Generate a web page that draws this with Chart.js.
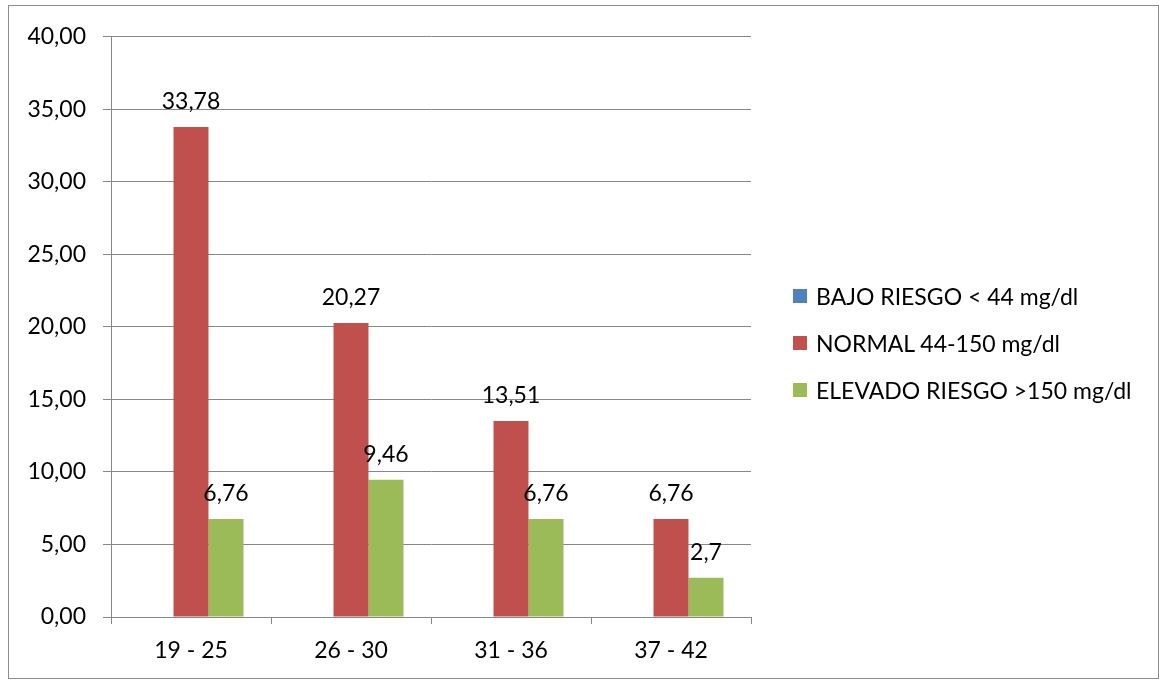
<!DOCTYPE html>
<html lang="es">
<head>
    <meta charset="UTF-8">
    <title>Rangos de edad</title>
    <style>
        body {
            margin: 0;
            background: #fff;
            font-family: Lato, sans-serif;
        }
        #frame {
            position: absolute;
            left: 8px;
            top: 5px;
            width: 1149px;
            height: 672px;
            border: 1px solid #8c8c8c;
        }
        #chart {
            position: absolute;
            left: 0;
            top: 0;
        }
        #legend {
            position: absolute;
            left: 784px;
            top: 276px;
        }
        .item {
            display: flex;
            align-items: center;
            height: 28px;
            margin-bottom: 19px;
            font-size: 23px;
            color: #000;
            white-space: nowrap;
        }
        .box {
            width: 14px;
            height: 14px;
            margin-right: 9px;
        }
    </style>
</head>
<body>
    <div id="frame">
        <canvas id="chart" width="1149" height="672"></canvas>
        <div id="legend"></div>
    </div>

    <script src="https://cdn.jsdelivr.net/npm/chart.js"></script>
    <script>
    // Data
    const categories = ['19 - 25', '26 - 30', '31 - 36', '37 - 42'];
    const seriesNames = ['BAJO RIESGO < 44 mg/dl', 'NORMAL 44-150 mg/dl', 'ELEVADO RIESGO >150 mg/dl'];
    const bajoRiesgo = [null, null, null, null];
    const normal = [33.78, 20.27, 13.51, 6.76];
    const elevadoRiesgo = [6.76, 9.46, 6.76, 2.7];
    const yTicks = [0, 5, 10, 15, 20, 25, 30, 35, 40];

    const colors = ['#4f81bd', '#c0504d', '#9bbb59'];
    const gridColor = '#888888';
    const fontFamily = 'Lato, sans-serif';
    const fontSize = 23;

    // Value labels above each bar
    const barLabels = {
        id: 'barLabels',
        afterDatasetsDraw(chart) {
            const ctx = chart.ctx;
            ctx.save();
            ctx.font = fontSize + 'px ' + fontFamily;
            ctx.fillStyle = '#000';
            ctx.textAlign = 'center';
            ctx.textBaseline = 'alphabetic';
            chart.data.datasets.forEach((ds, i) => {
                chart.getDatasetMeta(i).data.forEach((bar, j) => {
                    const v = ds.data[j];
                    if (v === null || v === undefined) return;
                    ctx.fillText(String(v).replace('.', ','), bar.x, bar.y - 18);
                });
            });
            ctx.restore();
        }
    };

    const allSeries = [bajoRiesgo, normal, elevadoRiesgo];

    new Chart(document.getElementById('chart'), {
        type: 'bar',
        data: {
            labels: categories,
            datasets: allSeries.map((data, i) => ({
                label: seriesNames[i],
                data: data,
                backgroundColor: colors[i],
                categoryPercentage: 0.656,
                barPercentage: 1
            }))
        },
        options: {
            responsive: false,
            animation: false,
            layout: {
                padding: { top: 30, right: 407, left: 0, bottom: 0 }
            },
            plugins: {
                legend: { display: false },
                tooltip: { enabled: false }
            },
            scales: {
                x: {
                    grid: {
                        display: true,
                        offset: true,
                        drawOnChartArea: false,
                        drawTicks: true,
                        tickLength: 7,
                        color: gridColor
                    },
                    border: { display: true, color: gridColor },
                    ticks: {
                        color: '#000',
                        padding: 13,
                        font: { family: fontFamily, size: fontSize }
                    },
                    afterFit: s => { s.height = 61; }
                },
                y: {
                    min: 0,
                    max: 40,
                    afterBuildTicks: s => { s.ticks = yTicks.map(v => ({ value: v })); },
                    grid: {
                        color: gridColor,
                        tickLength: 8
                    },
                    border: { display: true, color: gridColor },
                    ticks: {
                        color: '#000',
                        padding: 17,
                        font: { family: fontFamily, size: fontSize },
                        callback: v => v.toFixed(2).replace('.', ',')
                    },
                    afterFit: s => { s.width = 102; }
                }
            }
        },
        plugins: [barLabels]
    });

    // Legend on the right
    const legend = document.getElementById('legend');
    seriesNames.forEach((name, i) => {
        const item = document.createElement('div');
        item.className = 'item';
        item.innerHTML = `<span class="box" style="background:${colors[i]}"></span><span>${name.replace('<', '&lt;').replace('>', '&gt;')}</span>`;
        legend.appendChild(item);
    });
    </script>
</body>
</html>
